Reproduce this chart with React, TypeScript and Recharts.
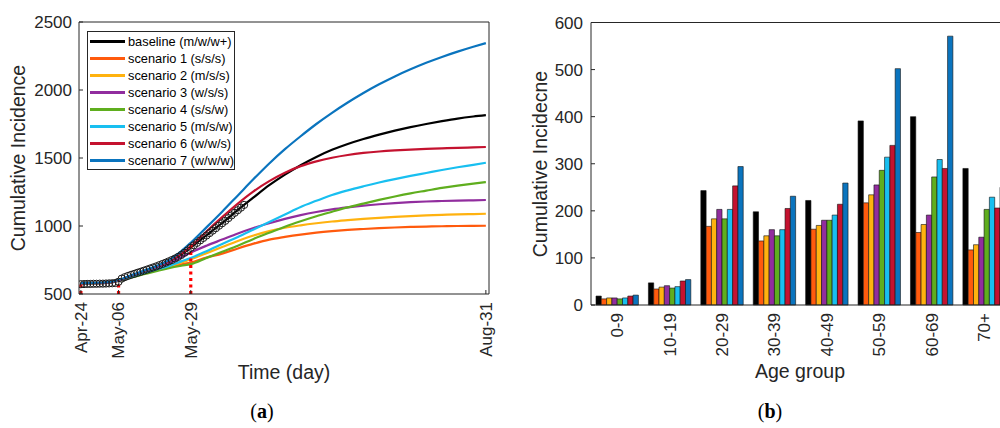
import React from 'react';
import { ComposedChart, Line, XAxis, YAxis, Legend, BarChart, Bar } from 'recharts';

const FONT = '"Liberation Sans", Arial, Helvetica, sans-serif';
const SERIF = '"Liberation Serif", "DejaVu Serif", serif';
const INK = '#262626';

// ---- panel (a): cumulative incidence over time (day 0 = Apr-24)
const lineDays = [0, 4, 8, 12, 16, 20, 24, 28, 32, 35, 40, 45, 50, 55, 60, 65, 70, 75, 80, 85, 90, 95, 100, 105, 110, 115, 120, 125, 129];
const baseline = [578, 580, 582, 598, 636, 668, 702, 740, 790, 843, 932, 1022, 1118, 1210, 1300, 1378, 1447, 1508, 1560, 1603, 1640, 1672, 1701, 1727, 1750, 1771, 1790, 1805, 1815];
const scenario1 = [578, 580, 582, 598, 626, 652, 675, 698, 718, 732, 768, 797, 835, 870, 900, 920, 937, 951, 962, 971, 978, 984, 989, 993, 996, 998, 1000, 1001, 1002];
const scenario2 = [578, 580, 582, 598, 628, 655, 678, 702, 732, 755, 800, 845, 890, 930, 962, 987, 1005, 1020, 1033, 1043, 1052, 1060, 1067, 1073, 1078, 1082, 1086, 1088, 1090];
const scenario3 = [578, 580, 582, 598, 630, 660, 690, 725, 770, 805, 855, 900, 945, 985, 1020, 1052, 1080, 1103, 1122, 1137, 1150, 1160, 1168, 1175, 1180, 1184, 1187, 1189, 1191];
const scenario4 = [578, 580, 582, 597, 622, 645, 668, 690, 708, 720, 765, 810, 855, 905, 950, 995, 1035, 1072, 1105, 1137, 1165, 1192, 1217, 1240, 1260, 1280, 1297, 1312, 1323];
const scenario5 = [578, 580, 582, 598, 628, 655, 680, 705, 740, 765, 815, 868, 920, 975, 1030, 1085, 1140, 1185, 1228, 1262, 1292, 1320, 1345, 1368, 1390, 1412, 1432, 1450, 1465];
const scenario6 = [578, 580, 582, 598, 634, 666, 701, 741, 795, 850, 960, 1065, 1165, 1255, 1330, 1392, 1440, 1475, 1502, 1522, 1537, 1548, 1556, 1562, 1567, 1571, 1575, 1578, 1581];
const scenario7 = [580, 582, 585, 602, 638, 670, 705, 748, 815, 877, 990, 1105, 1225, 1345, 1460, 1565, 1660, 1750, 1832, 1908, 1978, 2042, 2100, 2152, 2200, 2243, 2282, 2318, 2345];

// observed cumulative cases, one per day from day 0
const obsStartDay = 0;
const observed = [572, 573, 574, 574, 575, 575, 576, 576, 577, 578, 579, 581, 590, 613, 624, 633, 641, 648, 656, 663, 671, 679, 687, 695, 703, 712, 721, 730, 740, 750, 761, 773, 787, 803, 820, 840, 858, 876, 894, 912, 930, 948, 966, 984, 1002, 1020, 1038, 1058, 1078, 1097, 1116, 1135, 1155];

// red dotted markers: day and height they reach
const markerDays = [0, 12, 35];
const markerTops = [575, 600, 877];
const markerFloor = 500;

const dayTicks = [0, 12, 35, 129];
const dayTickLabels = ['Apr-24', 'May-06', 'May-29', 'Aug-31'];
const incidenceTicks = [500, 1000, 1500, 2000, 2500];

const seriesNames = ['baseline (m/w/w+)', 'scenario 1 (s/s/s)', 'scenario 2 (m/s/s)', 'scenario 3 (w/s/s)', 'scenario 4 (s/s/w)', 'scenario 5 (m/s/w)', 'scenario 6 (w/w/s)', 'scenario 7 (w/w/w)'];
const seriesColors = ['#000000', '#FF5A0D', '#FFB20F', '#912D9E', '#5FAE1E', '#18BFF0', '#C4122F', '#0A74BE'];

// ---- panel (b): cumulative incidence by age group
const ageGroups = ['0-9', '10-19', '20-29', '30-39', '40-49', '50-59', '60-69', '70+'];
const baselineByAge = [19, 47, 243, 198, 222, 391, 400, 290];
const scenario1ByAge = [13, 34, 167, 136, 161, 217, 154, 117];
const scenario2ByAge = [15, 38, 183, 147, 169, 234, 171, 128];
const scenario3ByAge = [15, 41, 203, 160, 180, 255, 191, 144];
const scenario4ByAge = [13, 36, 183, 147, 180, 286, 272, 203];
const scenario5ByAge = [15, 39, 203, 160, 191, 314, 309, 229];
const scenario6ByAge = [19, 51, 253, 205, 214, 339, 290, 206];
const scenario7ByAge = [21, 54, 294, 231, 259, 502, 571, 250];
const countTicks = [0, 100, 200, 300, 400, 500, 600];

const keys = ['s0', 's1', 's2', 's3', 's4', 's5', 's6', 's7'];
const lineSeries = [baseline, scenario1, scenario2, scenario3, scenario4, scenario5, scenario6, scenario7];
const barSeries = [baselineByAge, scenario1ByAge, scenario2ByAge, scenario3ByAge, scenario4ByAge, scenario5ByAge, scenario6ByAge, scenario7ByAge];

const rows = new Map<number, any>();
const rowFor = (d: number) => {
  if (!rows.has(d)) rows.set(d, { day: d });
  return rows.get(d);
};
lineDays.forEach((d, i) => lineSeries.forEach((s, k) => (rowFor(d)[keys[k]] = s[i])));
observed.forEach((v, i) => (rowFor(obsStartDay + i).obs = v));
const timeTable = Array.from(rows.values()).sort((a, b) => a.day - b.day);

const markerData = markerDays.map((d, i) => [
  { day: d, mark: markerFloor },
  { day: d, mark: markerTops[i] },
]);

const ageTable = ageGroups.map((age, i) => {
  const r: any = { age };
  barSeries.forEach((s, k) => (r[keys[k]] = s[i]));
  return r;
});

function DayTick({ x, y, payload }: any) {
  const label = dayTickLabels[dayTicks.indexOf(payload.value)];
  return (
    <text x={x} y={y} transform={`rotate(-90 ${x} ${y})`} textAnchor="end" dy="0.35em" fontSize={17} fill={INK} fontFamily={FONT}>
      {label}
    </text>
  );
}

function AgeTick({ x, y, payload }: any) {
  return (
    <text x={x} y={y} transform={`rotate(-90 ${x} ${y})`} textAnchor="end" dy="0.35em" fontSize={17} fill={INK} fontFamily={FONT}>
      {payload.value}
    </text>
  );
}

const obsDot = (props: any) => {
  const { cx, cy, value, index } = props;
  if (value == null || cx == null || cy == null) return <g key={`o${index}`} />;
  return <circle key={`o${index}`} cx={cx} cy={cy} r={3.6} fill="none" stroke="#1a1a1a" strokeWidth={1} />;
};

function LegendBox() {
  return (
    <div
      style={{
        width: 148,
        boxSizing: 'border-box',
        border: `1px solid ${INK}`,
        background: '#fff',
        padding: '1.2px 0 0 2px',
        fontFamily: FONT,
        fontSize: 12.8,
        color: '#000',
      }}
    >
      {seriesNames.map((name, k) => (
        <div key={name} style={{ display: 'flex', alignItems: 'center', height: 17, whiteSpace: 'nowrap' }}>
          <span style={{ display: 'inline-block', width: 35, height: 3, background: seriesColors[k], marginRight: 3 }} />
          <span>{name}</span>
        </div>
      ))}
    </div>
  );
}

const tickText = { fill: INK, fontSize: 17, fontFamily: FONT };

function TimePanel() {
  return (
    <ComposedChart width={500} height={428} data={timeTable} margin={{ top: 21, right: 10, bottom: 74, left: 19 }}>
      <XAxis
        dataKey="day"
        type="number"
        domain={[-0.6, 130]}
        allowDataOverflow
        ticks={dayTicks}
        interval={0}
        height={60}
        tickSize={-4}
        tickMargin={12}
        tick={<DayTick />}
        axisLine={{ stroke: INK }}
        tickLine={{ stroke: INK }}
      />
      <XAxis
        xAxisId="top"
        orientation="top"
        dataKey="day"
        type="number"
        domain={[-0.6, 130]}
        allowDataOverflow
        ticks={dayTicks}
        interval={0}
        height={1}
        tickSize={-4}
        tick={false}
        axisLine={{ stroke: INK }}
        tickLine={{ stroke: INK }}
      />
      <YAxis
        domain={[500, 2500]}
        allowDataOverflow
        ticks={incidenceTicks}
        interval={0}
        width={60}
        tickSize={-4}
        tickMargin={11}
        tick={tickText}
        axisLine={{ stroke: INK }}
        tickLine={{ stroke: INK }}
      />
      <YAxis
        yAxisId="right"
        orientation="right"
        domain={[500, 2500]}
        allowDataOverflow
        ticks={incidenceTicks}
        interval={0}
        width={1}
        tickSize={-4}
        tick={false}
        axisLine={{ stroke: INK }}
        tickLine={{ stroke: INK }}
      />
      <Legend layout="vertical" align="center" verticalAlign="middle" wrapperStyle={{ left: 87, top: 31, width: 'auto' }} content={() => <LegendBox />} />
      {keys.map((k, i) => (
        <Line
          key={k}
          dataKey={k}
          name={seriesNames[i]}
          type="monotone"
          stroke={seriesColors[i]}
          strokeWidth={2.2}
          dot={false}
          activeDot={false}
          connectNulls
          isAnimationActive={false}
        />
      ))}
      <Line dataKey="obs" stroke="none" dot={obsDot} activeDot={false} legendType="none" isAnimationActive={false} />
      {markerData.map((seg, i) => (
        <Line
          key={`m${i}`}
          data={seg}
          dataKey="mark"
          type="linear"
          stroke="#FF0000"
          strokeWidth={3.2}
          strokeDasharray="3 3.5"
          dot={false}
          activeDot={false}
          legendType="none"
          isAnimationActive={false}
        />
      ))}
    </ComposedChart>
  );
}

function AgePanel() {
  return (
    <BarChart width={530} height={428} data={ageTable} margin={{ top: 21.5, right: 18.7, bottom: 63, left: 31 }} barCategoryGap="10%" barGap={0}>
      <XAxis dataKey="age" height={60} tickSize={-4} tickMargin={12} tickLine={false} tick={<AgeTick />} interval={0} axisLine={{ stroke: INK }} />
      <XAxis xAxisId="top" orientation="top" dataKey="age" height={1} tickSize={-4} tick={false} axisLine={{ stroke: INK }} tickLine={{ stroke: INK }} />
      <YAxis
        domain={[0, 600]}
        ticks={countTicks}
        interval={0}
        width={60}
        tickSize={-4}
        tickMargin={12}
        tick={tickText}
        axisLine={{ stroke: INK }}
        tickLine={{ stroke: INK }}
      />
      <YAxis yAxisId="right" orientation="right" domain={[0, 600]} ticks={countTicks} width={1} tickSize={-4} tick={false} axisLine={{ stroke: INK }} tickLine={{ stroke: INK }} />
      {keys.map((k, i) => (
        <Bar key={k} dataKey={k} name={seriesNames[i]} fill={seriesColors[i]} stroke="#111" strokeWidth={0.6} barSize={5.3} isAnimationActive={false} />
      ))}
    </BarChart>
  );
}

const labelStyle: React.CSSProperties = {
  position: 'absolute',
  fontFamily: FONT,
  fontSize: 19.5,
  lineHeight: 1,
  color: INK,
  whiteSpace: 'nowrap',
};

function VLabel({ cx, cy, text }: { cx: number; cy: number; text: string }) {
  return <div style={{ ...labelStyle, left: cx, top: cy, transform: 'translate(-50%, -50%) rotate(-90deg)' }}>{text}</div>;
}

function HLabel({ cx, top, text }: { cx: number; top: number; text: string }) {
  return <div style={{ ...labelStyle, left: cx, top, transform: 'translateX(-50%)' }}>{text}</div>;
}

function PanelTag({ cx, letter }: { cx: number; letter: string }) {
  return (
    <div style={{ position: 'absolute', left: cx, top: 401, transform: 'translateX(-50%)', fontFamily: SERIF, fontSize: 20, lineHeight: 1, color: '#000' }}>
      (<b>{letter}</b>)
    </div>
  );
}

export default function App() {
  return (
    <div style={{ position: 'absolute', left: 0, top: 0, width: 1000, height: 428, overflow: 'hidden', background: '#fff' }}>
      <div style={{ position: 'absolute', left: 0, top: 0 }}>
        <TimePanel />
      </div>
      <div style={{ position: 'absolute', left: 500, top: 0 }}>
        <AgePanel />
      </div>
      <VLabel cx={18.5} cy={158} text="Cumulative Incidence" />
      <HLabel cx={284} top={363} text="Time (day)" />
      <VLabel cx={540.5} cy={164} text="Cumulative Incidecne" />
      <HLabel cx={800} top={362} text="Age group" />
      <PanelTag cx={262} letter="a" />
      <PanelTag cx={770} letter="b" />
    </div>
  );
}
